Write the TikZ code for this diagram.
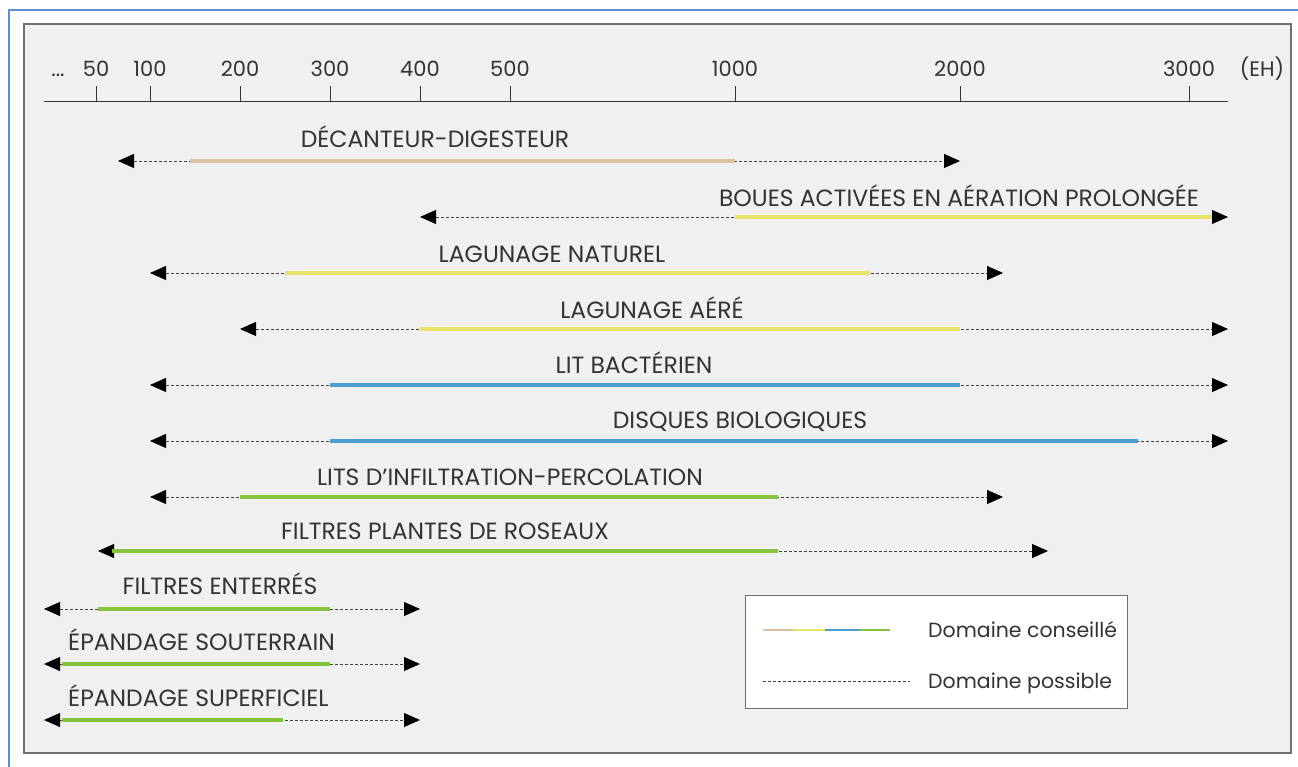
\documentclass[tikz,border=0pt]{standalone}
\usepackage{fontspec}
\setmainfont{Poppins}
\usetikzlibrary{arrows.meta}
\definecolor{frameblue}{HTML}{5B8ED6}
\definecolor{panelbg}{HTML}{F0F0F0}
\definecolor{panelborder}{HTML}{707070}
\definecolor{ctan}{HTML}{D9C2A2}
\definecolor{cyellow}{HTML}{E8E46A}
\definecolor{cblue}{HTML}{4A9ED2}
\definecolor{cgreen}{HTML}{86C43E}
\definecolor{txt}{HTML}{333333}
\tikzset{
  possible/.style={draw=black!75, line width=0.8pt, dash pattern=on 3pt off 2pt},
  tips/.style={{Triangle[length=16pt,width=14pt,black]}-{Triangle[length=16pt,width=14pt,black]}},
  conseil/.style={line width=3.6pt},
  lab/.style={font=\fontsize{23.5}{24}\selectfont, text=txt, inner sep=0pt},
  leglab/.style={font=\fontsize{20.5}{21}\selectfont, text=txt, inner sep=0pt},
  axlab/.style={font=\fontsize{21}{21}\selectfont, text=txt, inner sep=0pt},
}
\newcommand{\techrow}[9]{%
  % #1 name, #2 y, #3 left tip, #4 col start, #5 col end, #6 right tip, #7 colour, #8 label pos/anchor, #9 text
  \coordinate (#1-l) at (#3,#2);
  \coordinate (#1-r) at (#6,#2);
  \draw[possible, tips] (#1-l) -- (#1-r);
  \draw[conseil, #7] (#4,#2) -- (#5,#2);
  \node[lab, #8] (#1-t) {#9};
}
\begin{document}
\begin{tikzpicture}[x=1pt,y=-1pt]
\useasboundingbox (0,0) rectangle (1298,767);
\fill[white] (0,0) rectangle (1298,767);
% outer blue frame
\draw[frameblue, line width=2pt] (9,767) -- (9,10) -- (1298,10);
% panel
\draw[fill=panelbg, draw=panelborder, line width=1.8pt] (24,24) rectangle (1291,753);
% axis
\draw[black!80, line width=1pt] (44,102) -- (1228,102);
\foreach \x/\v in {96/50,150/100,240/200,330/300,420/400,510/500,735/1000,960/2000,1189/3000}{
  \draw[black!80, line width=1pt] (\x,102) -- (\x,86);
  \node[axlab, anchor=base] at (\x,77) {\v};
}
\node[axlab, anchor=base] (dots) at (58,77) {...};
\node[axlab, anchor=base] (eh) at (1262,77) {(EH)};
% rows
\techrow{r1}{161}{118}{190}{735}{960}{ctan}{anchor=base, at={(435,148)}}{DÉCANTEUR-DIGESTEUR}
\techrow{r2}{217}{420}{735}{1212}{1228}{cyellow}{anchor=base, at={(959,207)}}{BOUES ACTIVÉES EN AÉRATION PROLONGÉE}
\techrow{r3}{273}{150}{285}{870}{1003}{cyellow}{anchor=base, at={(552,263)}}{LAGUNAGE NATUREL}
\techrow{r4}{329}{240}{420}{960}{1228}{cyellow}{anchor=base, at={(652,318)}}{LAGUNAGE AÉRÉ}
\techrow{r5}{385}{150}{330}{960}{1228}{cblue}{anchor=base, at={(634,373)}}{LIT BACTÉRIEN}
\techrow{r6}{441}{150}{330}{1138}{1228}{cblue}{anchor=base, at={(740,428)}}{DISQUES BIOLOGIQUES}
\techrow{r7}{497}{150}{240}{778}{1003}{cgreen}{anchor=base, at={(510,485)}}{LITS D'INFILTRATION-PERCOLATION}
\techrow{r8}{551}{98}{112}{778}{1048}{cgreen}{anchor=base, at={(445,539)}}{FILTRES PLANTES DE ROSEAUX}
\techrow{r9}{609}{44}{98}{330}{420}{cgreen}{anchor=base, at={(220,594)}}{FILTRES ENTERRÉS}
\techrow{r10}{664}{44}{62}{330}{420}{cgreen}{anchor=base west, at={(68,650)}}{ÉPANDAGE SOUTERRAIN}
\techrow{r11}{720}{44}{62}{283}{420}{cgreen}{anchor=base west, at={(68,706)}}{ÉPANDAGE SUPERFICIEL}
% legend
\node[draw=panelborder, fill=white, line width=1.4pt, minimum width=382pt, minimum height=113pt, anchor=north west, inner sep=0pt] (legend) at (745,595) {};
\draw[ctan, line width=2.5pt] (763,630) -- (793,630);
\draw[cyellow, line width=2.5pt] (793,630) -- (825,630);
\draw[cblue, line width=2.5pt] (825,630) -- (860,630);
\draw[cgreen, line width=2.5pt] (860,630) -- (890,630);
\draw[possible] (763,681) -- (910,681);
\node[leglab, anchor=base west] (lg1) at (928,637) {Domaine conseillé};
\node[leglab, anchor=base west] (lg2) at (928,688) {Domaine possible};
\end{tikzpicture}
\end{document}
